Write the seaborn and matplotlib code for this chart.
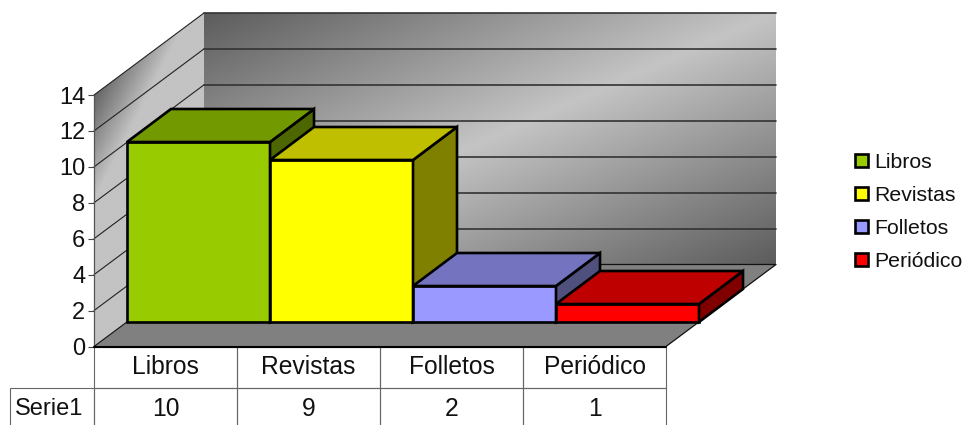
import numpy as np
import pandas as pd
import matplotlib
matplotlib.use("Agg")
import matplotlib.pyplot as plt
from matplotlib.patches import Polygon
import seaborn as sns

# datos
categorias = ["Libros", "Revistas", "Folletos", "Periódico"]
valores = [10, 9, 2, 1]
serie = "Serie1"
ticks_y = [0, 2, 4, 6, 8, 10, 12, 14]
colores = ["#99CC00", "#FFFF00", "#9999FF", "#FF0000"]
colores_arriba = ["#739900", "#BFBF00", "#7373BF", "#BF0000"]
colores_lado = ["#4D6600", "#808000", "#50507F", "#800000"]

sns.set_theme(style="white")
plt.rcParams["font.family"] = ["Liberation Sans", "DejaVu Sans"]

W, H = 967, 425
fig = plt.figure(figsize=(W / 100, H / 100), dpi=100)


def caja(x0, y_abajo, ancho, alto):
    return [x0 / W, 1 - y_abajo / H, ancho / W, alto / H]


# plano frontal en pixeles: 143 px por categoria, 18 px por unidad
ax_fondo = fig.add_axes(caja(94, 346.5, 572, 251.5))
ax = fig.add_axes(caja(127, 322, 572, 252))
ax.patch.set_alpha(0)
ax_fondo.set_xlim(-0.5, 3.5)
ax_fondo.set_ylim(0, 14)

# profundidad del grafico y de las barras, en unidades de datos
prof_x = 110 / 143
prof_y = 82 / 17.96
barra_x = 44 / 143
barra_y = 33 / 18


def degradado(extent, func):
    xs = np.linspace(0, 1, 300)
    ys = np.linspace(0, 1, 300)
    u, v = np.meshgrid(xs, ys)
    return ax_fondo.imshow(func(u, v), extent=extent, origin="upper", cmap="gray",
                           vmin=0, vmax=255, aspect="auto", zorder=1)


def recorte(im, puntos):
    pol = Polygon(puntos, closed=True, transform=ax_fondo.transData, facecolor="none", edgecolor="none")
    im.set_clip_path(pol)
    im.set_clip_box(fig.bbox)


x0, x1 = -0.5, 3.5
y_top = ticks_y[-1]

# pared del fondo
pared = degradado([x0 + prof_x, x1 + prof_x, prof_y, y_top + prof_y],
                  lambda u, v: 92 + 104 * (1 - np.abs(u + v - 1)))
recorte(pared, [(x0 + prof_x, prof_y), (x1 + prof_x, prof_y), (x1 + prof_x, y_top + prof_y), (x0 + prof_x, y_top + prof_y)])


# pared izquierda
def grad_izq(u, v):
    alto_total = (y_top + prof_y) / y_top
    v2 = (v * alto_total - (1 - u) * prof_y / y_top)
    return 100 + 95 * np.clip(u / 0.8 + v2 / 0.42, 0, 1)


izq = degradado([x0, x0 + prof_x, 0, y_top + prof_y], grad_izq)
recorte(izq, [(x0, 0), (x0 + prof_x, prof_y), (x0 + prof_x, y_top + prof_y), (x0, y_top)])

ax_fondo.set_xlim(-0.5, 3.5)
ax_fondo.set_ylim(0, 14)

# lineas de la cuadricula
for t in ticks_y[1:]:
    ax_fondo.plot([x0, x0 + prof_x], [t, t + prof_y], color="#222222", lw=0.8, clip_on=False, zorder=2)
    ax_fondo.plot([x0 + prof_x, x1 + prof_x], [t + prof_y, t + prof_y], color="#333333", lw=1.2, clip_on=False, zorder=2)

# piso
piso = Polygon([(x0, 0), (x1, 0), (x1 + prof_x, prof_y), (x0 + prof_x, prof_y)], closed=True,
               facecolor="#808080", edgecolor="none", clip_on=False, zorder=2)
ax_fondo.add_patch(piso)
ax_fondo.plot([x0 + prof_x, x1 + prof_x, x1], [prof_y, prof_y, 0], color="#111111", lw=0.9, clip_on=False, zorder=3)
ax_fondo.plot([x0, x0 + prof_x], [0, prof_y], color="#111111", lw=0.8, clip_on=False, zorder=3)

# ejes
for lado in ax_fondo.spines:
    ax_fondo.spines[lado].set_visible(False)
ax_fondo.spines["left"].set_visible(True)
ax_fondo.spines["left"].set_color("#555555")
ax_fondo.spines["left"].set_linewidth(0.9)
ax_fondo.set_yticks(ticks_y)
ax_fondo.tick_params(axis="y", left=True, length=4.5, width=0.8, color="#444444", pad=1.8,
                     labelsize=17, labelcolor="#111111")
ax_fondo.set_xticks([])
ax_fondo.set_facecolor("white")

# tabla de datos (el bbox solo cuenta las celdas sin la etiqueta de fila)
tabla = ax_fondo.table(cellText=[[str(v) for v in valores]], colLabels=categorias, cellLoc="center",
                       bbox=[0, -83 / 251.5, 1, 83 / 251.5])
tabla.auto_set_font_size(False)
tabla.set_fontsize(17.7)
# la etiqueta de fila se agrega a mano porque rowLabels ajusta su ancho al texto
celda_serie = tabla.add_cell(1, -1, width=84 / 572, height=tabla[1, 0].get_height(), text=serie, loc="left")
celda_serie.PAD = 0.055
celda_serie.get_text().set_fontsize(17)
for (fila, col), celda in tabla.get_celld().items():
    celda.set_edgecolor("#666666")
    celda.set_linewidth(0.8)
    celda.set_facecolor("none")
    celda.get_text().set_color("#111111")
    celda.set_clip_on(False)
ax_fondo.plot([x0, x1], [0, 0], color="black", lw=1.5, clip_on=False, zorder=5)

# barras
df = pd.DataFrame({"categoria": categorias, "valor": valores})
sns.barplot(data=df, x="categoria", y="valor", hue="categoria", order=categorias, hue_order=categorias,
            palette=colores, width=1, dodge=False, legend=False, edgecolor="black", linewidth=1.9,
            saturation=1, ax=ax)
ax.set_xlim(-0.5, 3.5)
ax.set_ylim(0, 14)
ax.axis("off")

handles = []
for i, cont in enumerate(ax.containers):
    barra = cont[0]
    barra.set_zorder(3 + i)
    barra.set_clip_on(False)
    handles.append(barra)
    xa, xb = i - 0.5, i + 0.5
    v = valores[i]
    arriba = Polygon([(xa, v), (xb, v), (xb + barra_x, v + barra_y), (xa + barra_x, v + barra_y)], closed=True,
                     facecolor=colores_arriba[i], edgecolor="black", linewidth=1.9, joinstyle="miter",
                     clip_on=False, zorder=3 + i)
    lado = Polygon([(xb, 0), (xb + barra_x, barra_y), (xb + barra_x, v + barra_y), (xb, v)], closed=True,
                   facecolor=colores_lado[i], edgecolor="black", linewidth=1.9, joinstyle="miter",
                   clip_on=False, zorder=3 + i)
    ax.add_patch(lado)
    ax.add_patch(arriba)

# leyenda
fig.legend(handles, categorias, loc="upper left", bbox_to_anchor=(855 / W, 1 - 153 / H), frameon=False,
           fontsize=15.3, borderpad=0, borderaxespad=0, labelspacing=0.66, handlelength=0.61, handleheight=0.61,
           handletextpad=0.29, labelcolor="#111111")

plt.savefig("out.png", dpi=100)
